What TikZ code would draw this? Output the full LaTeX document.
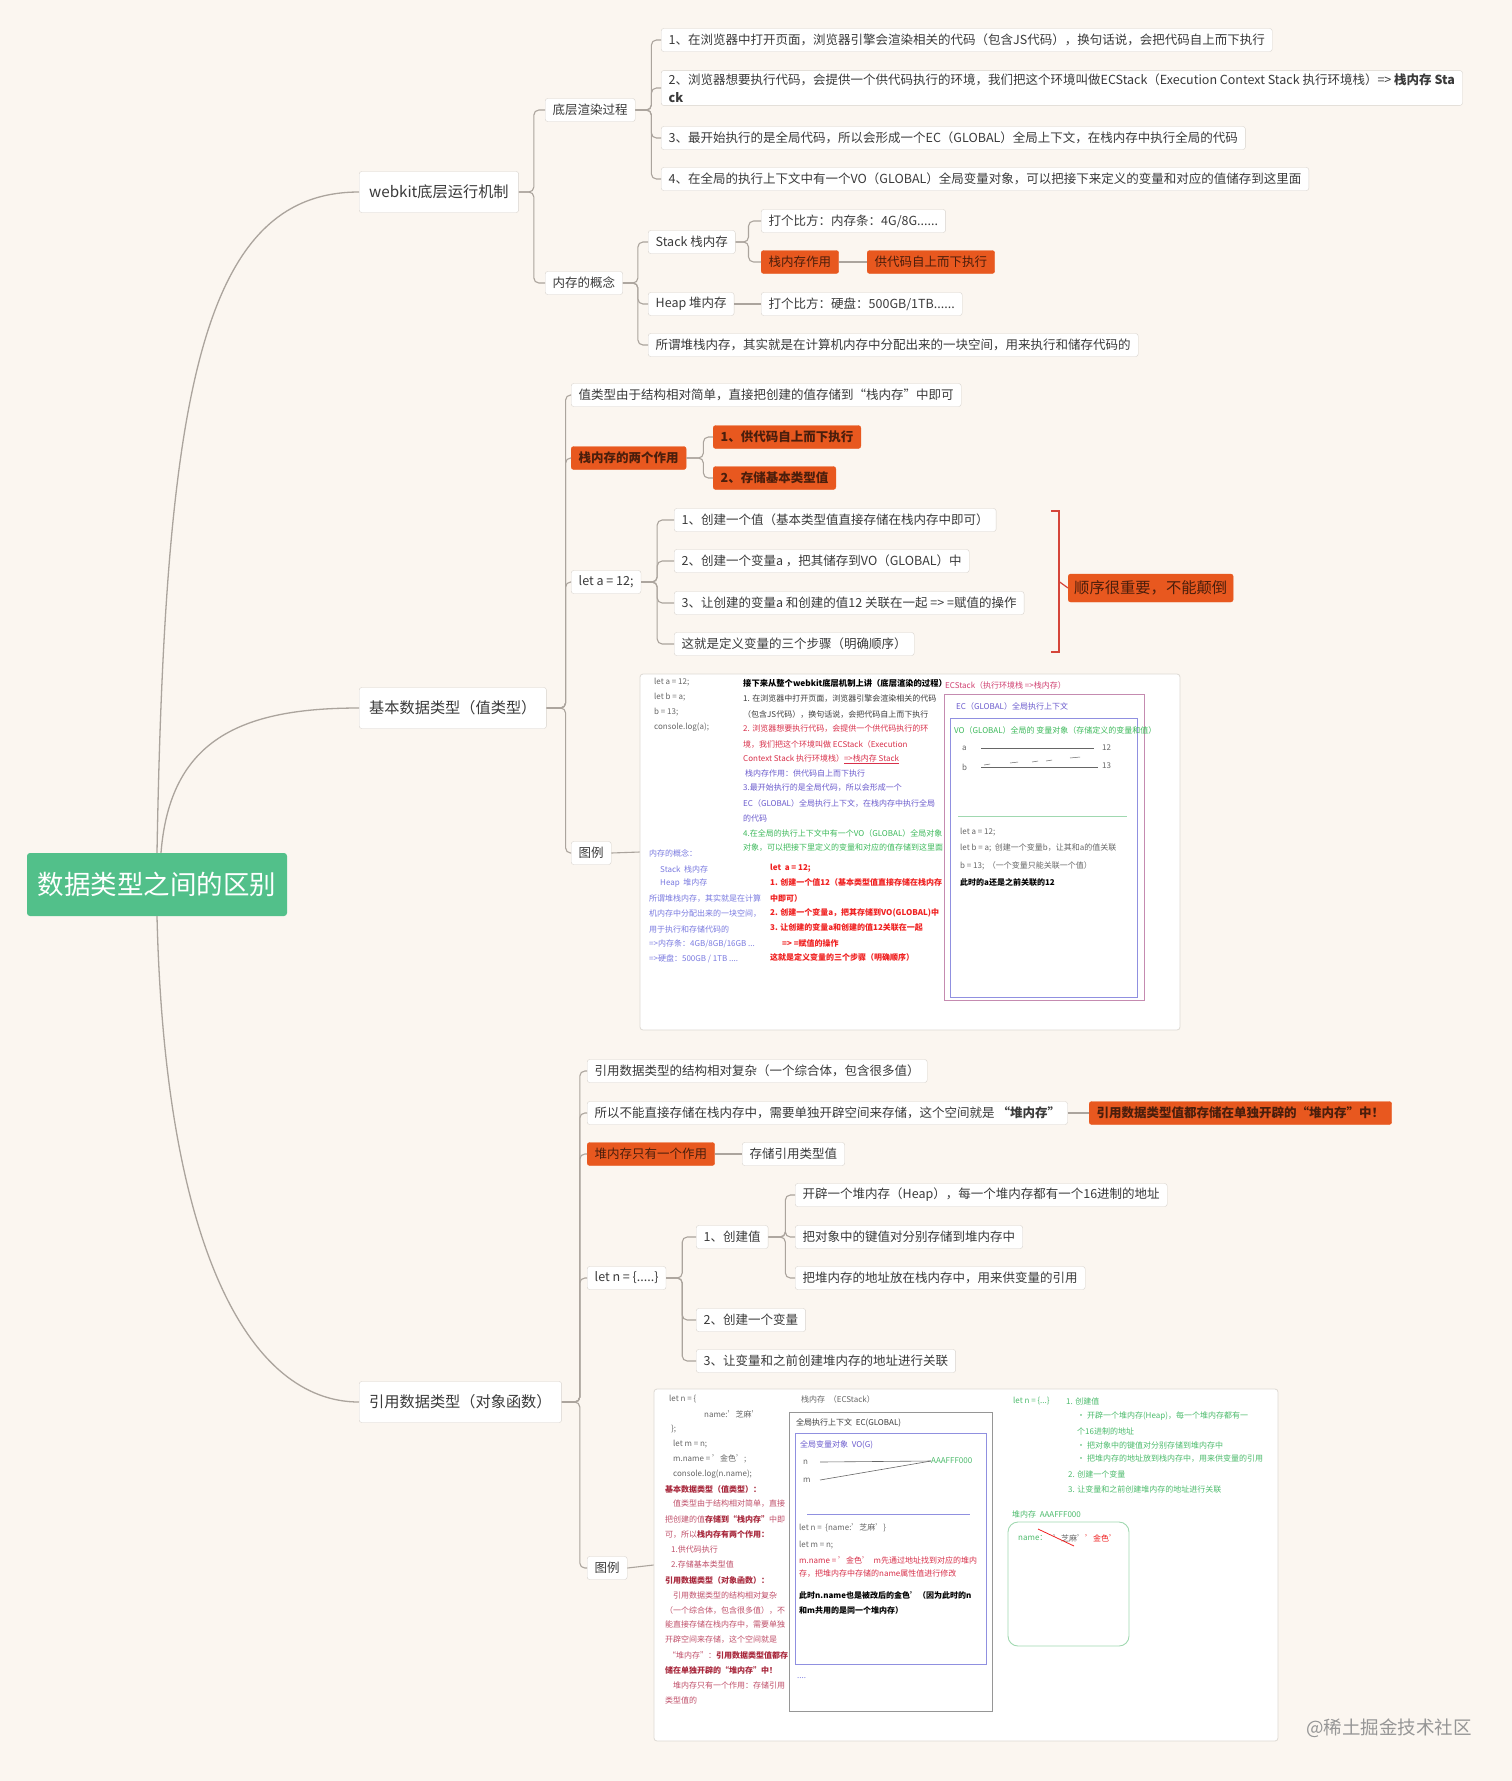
\documentclass[tikz,border=0pt]{standalone}
\usepackage{fontspec}
\setmainfont{Noto Sans CJK SC}
\newcommand\fsz[1]{\fontsize{#1}{#1}\selectfont}
\definecolor{bgc}{HTML}{FBF6F0}
\definecolor{nbord}{HTML}{D8D3CD}
\definecolor{txt}{HTML}{3A3A3A}
\definecolor{orng}{HTML}{E8581F}
\definecolor{otxt}{HTML}{4A1E0C}
\definecolor{lncol}{HTML}{ABA49D}
\definecolor{rootg}{HTML}{52C08A}
\definecolor{redbr}{HTML}{D5453A}
\definecolor{imgb}{HTML}{DEDAD4}
\definecolor{cgray}{HTML}{666666}
\definecolor{cred}{HTML}{D8304A}
\definecolor{cbred}{HTML}{F02020}
\definecolor{cpur}{HTML}{6A5ACD}
\definecolor{cblu}{HTML}{7A7AE0}
\definecolor{cgrn}{HTML}{3CB95A}
\definecolor{cpink}{HTML}{D04070}
\definecolor{cmar}{HTML}{A8283C}
\definecolor{cmarl}{HTML}{C0506A}
\definecolor{cgrn2}{HTML}{4CBB6C}
\definecolor{boxpink}{HTML}{C58BB0}
\definecolor{boxblue}{HTML}{9090E0}
\definecolor{lgrn}{HTML}{A0D8B0}
\definecolor{boxgray}{HTML}{969696}
\definecolor{wmc}{HTML}{969696}
\tikzset{
  tb/.style={draw=nbord, fill=white, rounded corners=2.5pt, font=\fsz{12.5}, text=txt,
    inner xsep=7.5pt, inner ysep=0pt, minimum height=23pt, anchor=west},
  ob/.style={tb, fill=orng, draw=orng, text=otxt},
  lone/.style={tb, font=\fsz{15.2}, minimum height=41pt, inner xsep=10pt},
  conn/.style={draw=lncol, line width=1.1pt, rounded corners=5pt},
  mainc/.style={draw=lncol, line width=1.3pt},
  tiny/.style={anchor=west, inner sep=0pt, font=\fsz{8}},
  imgbox/.style={draw=imgb, fill=white, rounded corners=3pt, line width=0.8pt},
}
\begin{document}
\begin{tikzpicture}[x=1pt,y=-1pt]
\useasboundingbox[fill=bgc] (0,0) rectangle (1512,1781);

% root
\node[fill=rootg, rounded corners=3pt, text=white, font=\fsz{26.5}, minimum width=260pt, minimum height=63pt] (root) at (157,884.5) {数据类型之间的区别};

% level 1
\node[lone] (A) at (359,192) {webkit底层运行机制};
\node[lone] (B) at (359,708) {基本数据类型（值类型）};
\node[lone] (C) at (359,1402) {引用数据类型（对象函数）};

\draw[mainc] (root.north) .. controls (165,400) and (200,192) .. (A.west);
\draw[mainc] ([xshift=4pt]root.north) .. controls (170,740) and (240,708) .. (B.west);
\draw[mainc] (root.south) .. controls (165,1250) and (250,1402) .. (C.west);

% ---- webkit subtree
\node[tb] (A1) at (545,110) {底层渲染过程};
\node[tb] (A2) at (545,283) {内存的概念};
\node[tb] (A11) at (661,40) {1、在浏览器中打开页面，浏览器引擎会渲染相关的代码（包含JS代码），换句话说，会把代码自上而下执行};
\node[tb, align=left, font=\fontsize{12.5}{18}\selectfont, inner ysep=3pt] (A12) at (661,88) {2、浏览器想要执行代码，会提供一个供代码执行的环境，我们把这个环境叫做ECStack（Execution Context Stack 执行环境栈）=> \textbf{栈内存 Sta}\\\textbf{ck}};
\node[tb] (A13) at (661,138) {3、最开始执行的是全局代码，所以会形成一个EC（GLOBAL）全局上下文，在栈内存中执行全局的代码};
\node[tb] (A14) at (661,179) {4、在全局的执行上下文中有一个VO（GLOBAL）全局变量对象，可以把接下来定义的变量和对应的值储存到这里面};
\node[tb] (A21) at (648,242) {Stack 栈内存};
\node[tb] (A211) at (761,221) {打个比方：内存条：4G/8G......};
\node[ob] (A212) at (761,262) {栈内存作用};
\node[ob] (A213) at (867,262) {供代码自上而下执行};
\node[tb] (A22) at (648,304) {Heap 堆内存};
\node[tb] (A221) at (761,304) {打个比方：硬盘：500GB/1TB......};
\node[tb] (A23) at (648,345) {所谓堆栈内存，其实就是在计算机内存中分配出来的一块空间，用来执行和储存代码的};

\foreach \c in {A1,A2} \draw[conn] (A.east) -- ++(15,0) |- (\c.west);
\foreach \c in {A11,A12,A13,A14} \draw[conn] (A1.east) -- ++(16,0) |- (\c.west);
\foreach \c in {A21,A22,A23} \draw[conn] (A2.east) -- ++(15,0) |- (\c.west);
\foreach \c in {A211,A212} \draw[conn] (A21.east) -- ++(13,0) |- (\c.west);
\draw[conn] (A212.east) -- (A213.west);
\draw[conn] (A22.east) -- (A221.west);

% ---- basic types subtree
\node[tb] (B1) at (571,395) {值类型由于结构相对简单，直接把创建的值存储到“栈内存”中即可};
\node[ob, font=\fsz{12.5}\bfseries] (B2) at (571,458) {栈内存的两个作用};
\node[ob, font=\fsz{12.5}\bfseries] (B21) at (713,437) {1、供代码自上而下执行};
\node[ob, font=\fsz{12.5}\bfseries] (B22) at (713,478) {2、存储基本类型值};
\node[tb] (B3) at (571,582) {let a = 12;};
\node[tb] (B31) at (674,520) {1、创建一个值（基本类型值直接存储在栈内存中即可）};
\node[tb] (B32) at (674,561) {2、创建一个变量a ，把其储存到VO（GLOBAL）中};
\node[tb] (B33) at (674,603) {3、让创建的变量a 和创建的值12 关联在一起 => =赋值的操作};
\node[tb] (B34) at (674,644) {这就是定义变量的三个步骤（明确顺序）};
\node[ob, font=\fsz{15.3}, minimum height=28pt, inner xsep=6pt] (B35) at (1068,588) {顺序很重要，不能颠倒};
\node[tb] (B4) at (571,853) {图例};
\node[imgbox, minimum width=540pt, minimum height=356pt] (img1) at (910,852) {};

\foreach \c in {B1,B2,B3,B4} \draw[conn] (B.east) -- ++(19,0) |- (\c.west);
\foreach \c in {B21,B22} \draw[conn] (B2.east) -- ++(17,0) |- (\c.west);
\foreach \c in {B31,B32,B33,B34} \draw[conn] (B3.east) -- ++(16,0) |- (\c.west);
\draw[conn] (B4.east) -- (img1.west);
\coordinate (sumtick) at (1059,581.5);
\draw[redbr, line width=1.2pt] (1051,511) -- (1059,511) -- (1059,652) -- (1051,652);
\draw[redbr, line width=1.2pt] (sumtick) -- (B35.west);

% image 1 contents
\node[tiny, cgray] (p1) at (654,682) {let a = 12;};
\node[tiny, cgray] (p2) at (654,697) {let b = a;};
\node[tiny, cgray] (p3) at (654,712) {b = 13;};
\node[tiny, cgray] (p4) at (654,727) {console.log(a);};
\node[tiny, black, font=\fsz{8.3}\bfseries] (p5) at (743,683) {接下来从整个webkit底层机制上讲（底层渲染的过程）};
\node[tiny, txt] (p6) at (743,699) {1. 在浏览器中打开页面，浏览器引擎会渲染相关的代码};
\node[tiny, txt] (p7) at (743,714) {（包含JS代码），换句话说，会把代码自上而下执行};
\node[tiny, cred] (p8) at (743,729) {2. 浏览器想要执行代码，会提供一个供代码执行的环};
\node[tiny, cred] (p9) at (743,744) {境，我们把这个环境叫做 ECStack（Execution};
\node[tiny, cred] (p10) at (743,759) {Context Stack 执行环境栈）\underline{=>栈内存 Stack}};
\node[tiny, cpur] (p11) at (745,773) {栈内存作用：供代码自上而下执行};
\node[tiny, cpur] (p12) at (743,788) {3.最开始执行的是全局代码，所以会形成一个};
\node[tiny, cpur] (p13) at (743,803) {EC（GLOBAL）全局执行上下文，在栈内存中执行全局};
\node[tiny, cpur] (p14) at (743,818) {的代码};
\node[tiny, cgrn] (p15) at (743,833) {4.在全局的执行上下文中有一个VO（GLOBAL）全局对象};
\node[tiny, cgrn] (p16) at (743,848) {对象，可以把接下里定义的变量和对应的值存储到这里面};
\node[tiny, cblu] (p17) at (649,853) {内存的概念：};
\node[tiny, cblu] (p18) at (660,869) {Stack\ \ 栈内存};
\node[tiny, cblu] (p19) at (660,883) {Heap\ \ 堆内存};
\node[tiny, cblu] (p20) at (649,899) {所谓堆栈内存，其实就是在计算};
\node[tiny, cblu] (p21) at (649,914) {机内存中分配出来的一块空间，};
\node[tiny, cblu] (p22) at (649,929) {用于执行和存储代码的};
\node[tiny, cblu] (p23) at (649,944) {=>内存条：4GB/8GB/16GB ...};
\node[tiny, cblu] (p24) at (649,959) {=>硬盘：500GB / 1TB ....};
\node[tiny, cbred, font=\fsz{8}\bfseries] (p25) at (770,868) {let\ \ a = 12;};
\node[tiny, cbred, font=\fsz{8}\bfseries] (p26) at (770,882) {1. 创建一个值12（基本类型值直接存储在栈内存};
\node[tiny, cbred, font=\fsz{8}\bfseries] (p27) at (770,898) {中即可）};
\node[tiny, cbred, font=\fsz{8}\bfseries] (p28) at (770,913) {2. 创建一个变量a，把其存储到VO(GLOBAL)中};
\node[tiny, cbred, font=\fsz{8}\bfseries] (p29) at (770,927) {3. 让创建的变量a和创建的值12关联在一起};
\node[tiny, cbred, font=\fsz{8}\bfseries] (p30) at (782,943) {=> =赋值的操作};
\node[tiny, cbred, font=\fsz{8}\bfseries] (p31) at (770,957) {这就是定义变量的三个步骤（明确顺序）};
\node[tiny, cpink] (p32) at (945,685) {ECStack（执行环境栈 =>栈内存）};
\draw[boxpink, line width=0.9pt] (944,694) rectangle (1144,1000);
\node[tiny, cpur] (p33) at (956,706) {EC（GLOBAL）全局执行上下文};
\draw[boxblue, line width=0.9pt] (950,718) rectangle (1137,997);
\node[tiny, cgrn] (p34) at (954,730) {VO（GLOBAL）全局的 变量对象（存储定义的变量和值）};
\node[tiny, cgray] (p35) at (962,748) {a};
\node[tiny, cgray] (p36) at (1102,748) {12};
\node[tiny, cgray] (p37) at (962,767) {b};
\node[tiny, cgray] (p38) at (1102,766) {13};
\draw[cgray, line width=0.6pt] (981,748) -- (1094,748);
\draw[cgray, line width=0.6pt] (981,767) -- (1098,767);
\draw[cgray, line width=0.5pt] (984,765) -- (990,764) (1010,763) -- (1018,762) (1032,762) -- (1038,761) (1046,761) -- (1052,760) (1070,758) -- (1080,757);
\draw[lgrn, line width=0.9pt] (958,816) -- (1127,816);
\node[tiny, cgray] (p39) at (960,832) {let a = 12;};
\node[tiny, cgray] (p40) at (960,848) {let b = a;\ \ 创建一个变量b，让其和a的值关联};
\node[tiny, cgray] (p41) at (960,866) {b = 13;\ \ （一个变量只能关联一个值）};
\node[tiny, black, font=\fsz{8}\bfseries] (p42) at (960,882) {此时的a还是之前关联的12};

% ---- reference types subtree
\node[tb] (C1) at (587,1071) {引用数据类型的结构相对复杂（一个综合体，包含很多值）};
\node[tb] (C2) at (587,1113) {所以不能直接存储在栈内存中，需要单独开辟空间来存储，这个空间就是 \textbf{“堆内存”}};
\node[ob, font=\fsz{12.5}\bfseries] (C21) at (1089,1113) {引用数据类型值都存储在单独开辟的“堆内存”中！};
\node[ob] (C3) at (587,1154) {堆内存只有一个作用};
\node[tb] (C31) at (742,1154) {存储引用类型值};
\node[tb] (C4) at (587,1278) {let n = \{.....\}};
\node[tb] (C41) at (696,1237) {1、创建值};
\node[tb] (C411) at (795,1195) {开辟一个堆内存（Heap），每一个堆内存都有一个16进制的地址};
\node[tb] (C412) at (795,1237) {把对象中的键值对分别存储到堆内存中};
\node[tb] (C413) at (795,1278) {把堆内存的地址放在栈内存中，用来供变量的引用};
\node[tb] (C42) at (696,1320) {2、创建一个变量};
\node[tb] (C43) at (696,1361) {3、让变量和之前创建堆内存的地址进行关联};
\node[tb] (C5) at (587,1568) {图例};
\node[imgbox, minimum width=624pt, minimum height=352pt] (img2) at (966,1565) {};

\foreach \c in {C1,C2,C3,C4,C5} \draw[conn] (C.east) -- ++(18,0) |- (\c.west);
\draw[conn] (C2.east) -- (C21.west);
\draw[conn] (C3.east) -- (C31.west);
\foreach \c in {C41,C42,C43} \draw[conn] (C4.east) -- ++(16,0) |- (\c.west);
\foreach \c in {C411,C412,C413} \draw[conn] (C41.east) -- ++(17,0) |- (\c.west);
\draw[conn] (C5.east) -- (img2.west);

% image 2 contents
\node[tiny, cgray] (q1) at (669,1399) {let n = \{};
\node[tiny, cgray] (q2) at (704,1414) {name:'芝麻'};
\node[tiny, cgray] (q3) at (671,1429) {\};};
\node[tiny, cgray] (q4) at (673,1444) {let m = n;};
\node[tiny, cgray] (q5) at (673,1459) {m.name = '金色';};
\node[tiny, cgray] (q6) at (673,1474) {console.log(n.name);};
\node[tiny, cmar, font=\fsz{8}\bfseries] (q7) at (665,1489) {基本数据类型（值类型）：};
\node[tiny, cmarl] (q8) at (673,1504) {值类型由于结构相对简单，直接};
\node[tiny, cmarl] (q9) at (665,1519) {把创建的值\textcolor{cmar}{\bfseries 存储到“栈内存”}中即};
\node[tiny, cmarl] (q10) at (665,1534) {可，所以\textcolor{cmar}{\bfseries 栈内存有两个作用：}};
\node[tiny, cmarl] (q11) at (671,1549) {1.供代码执行};
\node[tiny, cmarl] (q12) at (671,1564) {2.存储基本类型值};
\node[tiny, cmar, font=\fsz{8}\bfseries] (q13) at (665,1580) {引用数据类型（对象函数）：};
\node[tiny, cmarl] (q14) at (673,1595) {引用数据类型的结构相对复杂};
\node[tiny, cmarl] (q15) at (665,1610) {（一个综合体，包含很多值），不};
\node[tiny, cmarl] (q16) at (665,1625) {能直接存储在栈内存中，需要单独};
\node[tiny, cmarl] (q17) at (665,1640) {开辟空间来存储，这个空间就是};
\node[tiny, cmarl] (q18) at (668,1655) {“堆内存”：\textcolor{cmar}{\bfseries 引用数据类型值都存}};
\node[tiny, cmar, font=\fsz{8}\bfseries] (q19) at (665,1670) {储在单独开辟的“堆内存”中！};
\node[tiny, cmarl] (q20) at (673,1685) {堆内存只有一个作用：存储引用};
\node[tiny, cmarl] (q21) at (665,1700) {类型值的};

\node[tiny, cgray] (q22) at (801,1399) {栈内存\ \ （ECStack）};
\draw[boxgray, line width=0.9pt] (789,1412) rectangle (992,1711);
\node[tiny, txt] (q23) at (796,1423) {全局执行上下文\ \ EC(GLOBAL)};
\draw[boxblue, line width=0.9pt] (795,1433) rectangle (986,1664);
\node[tiny, cpur] (q24) at (800,1445) {全局变量对象\ \ VO(G)};
\node[tiny, cgray] (q25) at (803,1462) {n};
\node[tiny, cgray] (q26) at (803,1480) {m};
\node[tiny, cgrn2] (q27) at (931,1461) {AAAFFF000};
\draw[cgray, line width=0.6pt] (820,1462) -- (q27.west);
\draw[cgray, line width=0.6pt] (820,1480) -- (q27.west);
\draw[boxblue, line width=0.8pt] (807,1514) -- (970,1514);
\node[tiny, cgray] (q28) at (799,1528) {let n =\ \ \{name:'芝麻'\}};
\node[tiny, cgray] (q29) at (799,1545) {let m = n;};
\node[tiny, cred] (q30) at (799,1560) {m.name = '金色'\ \ m先通过地址找到对应的堆内};
\node[tiny, cred] (q31) at (799,1574) {存，把堆内存中存储的name属性值进行修改};
\node[tiny, black, font=\fsz{8}\bfseries] (q32) at (799,1595) {此时n.name也是被改后的金色'（因为此时的n};
\node[tiny, black, font=\fsz{8}\bfseries] (q33) at (799,1610) {和m共用的是同一个堆内存）};
\node[tiny, cblu] (q34) at (797,1678) {....};

\node[tiny, cgrn2] (q35) at (1013,1401) {let n = \{...\}};
\node[tiny, cgrn2] (q36) at (1066,1401) {1. 创建值};
\node[tiny, cgrn2] (q37) at (1077,1416) {• 开辟一个堆内存(Heap)，每一个堆内存都有一};
\node[tiny, cgrn2] (q38) at (1077,1431) {个16进制的地址};
\node[tiny, cgrn2] (q39) at (1077,1445) {• 把对象中的键值对分别存储到堆内存中};
\node[tiny, cgrn2] (q40) at (1077,1459) {• 把堆内存的地址放到栈内存中，用来供变量的引用};
\node[tiny, cgrn2] (q41) at (1068,1474) {2. 创建一个变量};
\node[tiny, cgrn2] (q42) at (1068,1489) {3. 让变量和之前创建堆内存的地址进行关联};
\node[tiny, cgrn2] (q43) at (1012,1514) {堆内存\ \ AAAFFF000};
\draw[lgrn, line width=0.9pt, rounded corners=10pt] (1008,1522) rectangle (1129,1646);
\node[tiny, cgrn2] (q44) at (1018,1538) {name：};
\node[tiny, cgray] (q45) at (1053,1538) {'芝麻'};
\node[tiny, cbred] (q46) at (1085,1538) {'金色'};
\draw[cbred, line width=0.8pt] (1038,1529) -- (1074,1546);

% watermark
\node[font=\fsz{18.5}, text=wmc, anchor=west, inner sep=0pt] (wm) at (1306,1728) {@稀土掘金技术社区};
\end{tikzpicture}
\end{document}
